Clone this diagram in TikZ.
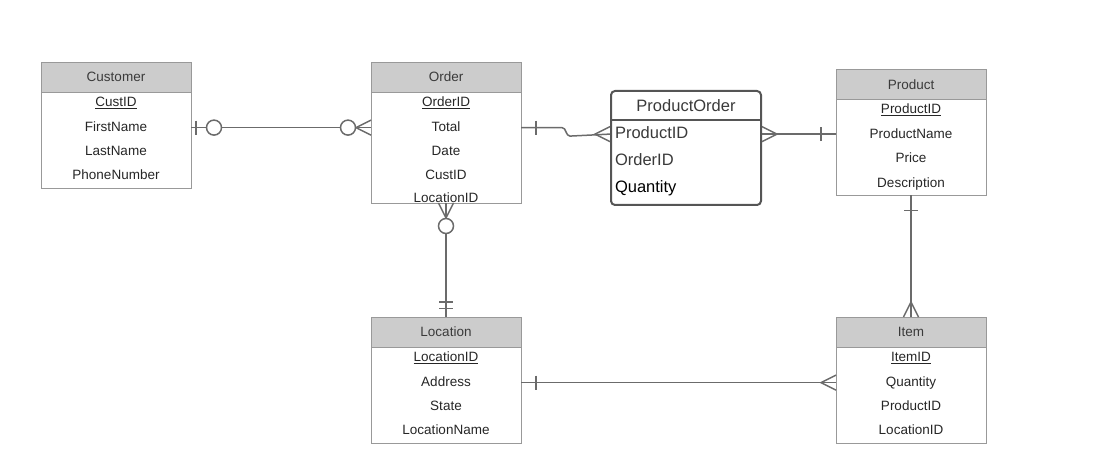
\documentclass[tikz,border=0pt]{standalone}
\usepackage{fontspec}
\setmainfont{Liberation Sans}
\usepackage{xcolor}
\usetikzlibrary{positioning, calc}

\definecolor{boxgray}{HTML}{999999}
\definecolor{headgray}{HTML}{CCCCCC}
\definecolor{linegray}{HTML}{6B6B6B}
\definecolor{textgray}{HTML}{3A3A3A}
\definecolor{pogray}{HTML}{555555}
\newcommand{\entfont}{\fontsize{13.5}{16}\selectfont}
\newcommand{\pofont}{\fontsize{16.5}{19}\selectfont}

\begin{document}
\begin{tikzpicture}[x=1pt, y=1pt,
    head/.style={rectangle, draw=boxgray, fill=headgray, minimum width=150pt, minimum height=30pt, outer sep=0pt, text=textgray, font=\entfont},
    body/.style={rectangle, draw=boxgray, minimum width=150pt, outer sep=0pt},
    row/.style={minimum height=24pt, inner sep=0pt, text height=10pt, text depth=3pt, text=black!85, font=\entfont},
    porow/.style={minimum height=27pt, inner sep=0pt, text height=12pt, text depth=4pt, text width=142pt, align=left, font=\pofont, text=textgray},
    link/.style={draw=linegray, line width=1.5pt},
    crow/.pic={\draw [link] (0,7.5) -- (-15,0) -- (0,-7.5);},
    ring/.pic={\draw [link, fill=white] (-23,0) circle (7.5);},
    bar/.pic={\draw [link] (-15,-7) -- (-15,7);},
    nearbar/.pic={\draw [link] (-5,-7) -- (-5,7);},
    dbar/.pic={\draw [link] (-15,-7) -- (-15,7) (-8.5,-7) -- (-8.5,7);}]

    \useasboundingbox (0,0) rectangle (1105,-462);

    % Customer
    \node (custhead) [head] at (116,-77) {Customer};
    \node (cust) [body, minimum height=96pt, below=0pt of custhead] {};
    \node (custid) [row, below=-1pt of custhead] {\underline{CustID}};
    \node (custfirst) [row, below=0pt of custid] {FirstName};
    \node (custlast) [row, below=0pt of custfirst] {LastName};
    \node (custphone) [row, below=0pt of custlast] {PhoneNumber};

    % Order
    \node (ordhead) [head] at (446,-77) {Order};
    \node (ord) [body, minimum height=111pt, below=0pt of ordhead] {};
    \node (ordid) [row, below=-1pt of ordhead] {\underline{OrderID}};
    \node (ordtotal) [row, below=0pt of ordid] {Total};
    \node (orddate) [row, below=0pt of ordtotal] {Date};
    \node (ordcust) [row, below=0pt of orddate] {CustID};
    \node (ordloc) [row, below=-2pt of ordcust] {LocationID};

    % ProductOrder
    \node (po) [rectangle, draw=pogray, line width=2pt, rounded corners=4pt, minimum width=150pt, minimum height=114pt] at (686,-148) {};
    \node (pohead) [minimum width=150pt, minimum height=30pt, inner sep=0pt, font=\pofont, text=textgray, below=0pt of po.north] {ProductOrder};
    \draw [pogray, line width=2pt] (pohead.south -| po.west) -- (pohead.south -| po.east);
    \node (poprod) [porow, below=0pt of pohead] {ProductID};
    \node (poord) [porow, below=0pt of poprod] {OrderID};
    \node (poqty) [porow, text=black, below=0pt of poord] {Quantity};

    % Product
    \node (prodhead) [head] at (911,-84.3) {Product};
    \node (prod) [body, minimum height=96pt, below=0pt of prodhead] {};
    \node (prodid) [row, below=-1pt of prodhead] {\underline{ProductID}};
    \node (prodname) [row, below=0pt of prodid] {ProductName};
    \node (prodprice) [row, below=0pt of prodname] {Price};
    \node (proddesc) [row, below=0pt of prodprice] {Description};

    % Location
    \node (lochead) [head] at (446,-332) {Location};
    \node (loc) [body, minimum height=96pt, below=0pt of lochead] {};
    \node (locid) [row, below=-1pt of lochead] {\underline{LocationID}};
    \node (locaddr) [row, below=0pt of locid] {Address};
    \node (locstate) [row, below=0pt of locaddr] {State};
    \node (locname) [row, below=0pt of locstate] {LocationName};

    % Item
    \node (itemhead) [head] at (911,-332) {Item};
    \node (item) [body, minimum height=96pt, below=0pt of itemhead] {};
    \node (itemid) [row, below=-1pt of itemhead] {\underline{ItemID}};
    \node (itemqty) [row, below=0pt of itemid] {Quantity};
    \node (itemprod) [row, below=0pt of itemqty] {ProductID};
    \node (itemloc) [row, below=0pt of itemprod] {LocationID};

    % relationships
    \draw [link] (custfirst -| cust.east) -- (ordtotal -| ord.west);
    \pic [rotate=180] at (custfirst -| cust.east) {nearbar};
    \pic [rotate=180] at (custfirst -| cust.east) {ring};
    \pic at (ordtotal -| ord.west) {crow};
    \pic at (ordtotal -| ord.west) {ring};

    \draw [link] (ordtotal -| ord.east) -- ++(41,0) to [out=0, in=180] ++(8,-8.5) -- (poprod -| po.west);
    \pic [rotate=180] at (ordtotal -| ord.east) {bar};
    \pic at (poprod -| po.west) {crow};

    \draw [link] (poprod -| po.east) -- (poprod -| prod.west);
    \pic [rotate=180] at (poprod -| po.east) {crow};
    \pic at (poprod -| prod.west) {bar};

    \draw [link] (ord.south) -- (lochead.north);
    \pic [rotate=90] at (ord.south) {crow};
    \pic [rotate=90] at (ord.south) {ring};
    \pic [rotate=-90] at (lochead.north) {dbar};

    \draw [link] (prod.south) -- (itemhead.north);
    \pic [rotate=90] at (prod.south) {bar};
    \pic [rotate=-90] at (itemhead.north) {crow};

    \draw [link] (locaddr -| loc.east) -- (itemqty -| item.west);
    \pic [rotate=180] at (locaddr -| loc.east) {bar};
    \pic at (itemqty -| item.west) {crow};
\end{tikzpicture}
\end{document}
